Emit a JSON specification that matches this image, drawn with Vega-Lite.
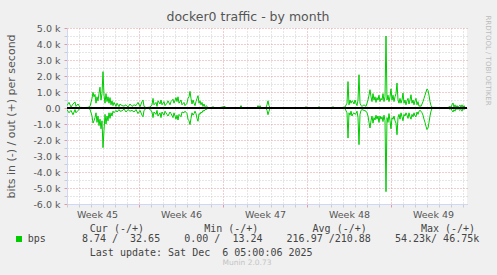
{
"$schema": "https://vega.github.io/schema/vega-lite/v6.json",
"width": 400, "height": 176,
"autosize": {"type": "none"},
"padding": {"left": 67, "top": 28, "right": 30, "bottom": 71},
"background": "#f0f0f0",
"config": {"view": {"fill": "#ffffff", "stroke": null}, "font": "DejaVu Sans"},
"title": {"text": "docker0 traffic - by month", "anchor": "middle", "frame": "group", "dx": -19, "dy": 23, "offset": 2, "baseline": "bottom", "font": "DejaVu Sans", "fontSize": 12.5, "fontWeight": "normal", "color": "#555555"},
"data": {"values": [
{"t":"2025-11-03T00:00Z","out":150,"in":-100},
{"t":"2025-11-03T04:00Z","out":350,"in":-300},
{"t":"2025-11-03T08:00Z","out":60,"in":-150},
{"t":"2025-11-03T12:00Z","out":250,"in":-420},
{"t":"2025-11-03T16:00Z","out":380,"in":-100},
{"t":"2025-11-03T18:00Z","out":100,"in":-300},
{"t":"2025-11-03T22:00Z","out":250,"in":-150},
{"t":"2025-11-04T02:00Z","out":40,"in":-30},
{"t":"2025-11-04T10:00Z","out":30,"in":-10},
{"t":"2025-11-04T18:00Z","out":40,"in":-20},
{"t":"2025-11-04T22:00Z","out":100,"in":-80},
{"t":"2025-11-05T02:00Z","out":600,"in":-500},
{"t":"2025-11-05T04:00Z","out":980,"in":-940},
{"t":"2025-11-05T06:00Z","out":700,"in":-800},
{"t":"2025-11-05T08:00Z","out":850,"in":-600},
{"t":"2025-11-05T10:00Z","out":300,"in":-300},
{"t":"2025-11-05T12:00Z","out":700,"in":-900},
{"t":"2025-11-05T14:00Z","out":450,"in":-500},
{"t":"2025-11-05T16:00Z","out":900,"in":-1100},
{"t":"2025-11-05T18:00Z","out":1300,"in":-700},
{"t":"2025-11-05T20:00Z","out":500,"in":-1300},
{"t":"2025-11-05T22:00Z","out":900,"in":-800},
{"t":"2025-11-06T00:00Z","out":2270,"in":-2480},
{"t":"2025-11-06T02:00Z","out":800,"in":-1400},
{"t":"2025-11-06T04:00Z","out":300,"in":-400},
{"t":"2025-11-06T06:00Z","out":900,"in":-1000},
{"t":"2025-11-06T08:00Z","out":400,"in":-500},
{"t":"2025-11-06T10:00Z","out":700,"in":-800},
{"t":"2025-11-06T12:00Z","out":300,"in":-300},
{"t":"2025-11-06T14:00Z","out":650,"in":-650},
{"t":"2025-11-06T16:00Z","out":200,"in":-300},
{"t":"2025-11-06T18:00Z","out":450,"in":-500},
{"t":"2025-11-06T20:00Z","out":150,"in":-200},
{"t":"2025-11-06T22:00Z","out":350,"in":-300},
{"t":"2025-11-07T02:00Z","out":100,"in":-150},
{"t":"2025-11-07T04:00Z","out":300,"in":-250},
{"t":"2025-11-07T08:00Z","out":80,"in":-100},
{"t":"2025-11-07T10:00Z","out":250,"in":-200},
{"t":"2025-11-07T14:00Z","out":150,"in":-180},
{"t":"2025-11-07T18:00Z","out":120,"in":-60},
{"t":"2025-11-07T22:00Z","out":200,"in":-250},
{"t":"2025-11-08T02:00Z","out":60,"in":-100},
{"t":"2025-11-08T06:00Z","out":250,"in":-200},
{"t":"2025-11-08T10:00Z","out":100,"in":-150},
{"t":"2025-11-08T14:00Z","out":200,"in":-250},
{"t":"2025-11-08T18:00Z","out":150,"in":-100},
{"t":"2025-11-08T22:00Z","out":350,"in":-350},
{"t":"2025-11-09T02:00Z","out":80,"in":-150},
{"t":"2025-11-09T06:00Z","out":400,"in":-450},
{"t":"2025-11-09T08:00Z","out":500,"in":-550},
{"t":"2025-11-09T10:00Z","out":100,"in":-150},
{"t":"2025-11-09T14:00Z","out":30,"in":-30},
{"t":"2025-11-09T18:00Z","out":40,"in":-20},
{"t":"2025-11-09T22:00Z","out":60,"in":-80},
{"t":"2025-11-10T02:00Z","out":200,"in":-250},
{"t":"2025-11-10T04:00Z","out":600,"in":-600},
{"t":"2025-11-10T06:00Z","out":200,"in":-250},
{"t":"2025-11-10T10:00Z","out":350,"in":-400},
{"t":"2025-11-10T12:00Z","out":100,"in":-150},
{"t":"2025-11-10T14:00Z","out":450,"in":-500},
{"t":"2025-11-10T18:00Z","out":250,"in":-300},
{"t":"2025-11-10T20:00Z","out":500,"in":-600},
{"t":"2025-11-10T22:00Z","out":200,"in":-250},
{"t":"2025-11-11T02:00Z","out":400,"in":-450},
{"t":"2025-11-11T04:00Z","out":150,"in":-200},
{"t":"2025-11-11T08:00Z","out":300,"in":-400},
{"t":"2025-11-11T10:00Z","out":450,"in":-500},
{"t":"2025-11-11T14:00Z","out":200,"in":-250},
{"t":"2025-11-11T16:00Z","out":400,"in":-350},
{"t":"2025-11-11T20:00Z","out":550,"in":-600},
{"t":"2025-11-11T22:00Z","out":300,"in":-300},
{"t":"2025-11-12T02:00Z","out":650,"in":-700},
{"t":"2025-11-12T04:00Z","out":400,"in":-450},
{"t":"2025-11-12T06:00Z","out":700,"in":-750},
{"t":"2025-11-12T08:00Z","out":300,"in":-400},
{"t":"2025-11-12T12:00Z","out":500,"in":-550},
{"t":"2025-11-12T14:00Z","out":200,"in":-250},
{"t":"2025-11-12T18:00Z","out":350,"in":-300},
{"t":"2025-11-12T20:00Z","out":150,"in":-200},
{"t":"2025-11-13T00:00Z","out":300,"in":-350},
{"t":"2025-11-13T02:00Z","out":600,"in":-700},
{"t":"2025-11-13T04:00Z","out":700,"in":-800},
{"t":"2025-11-13T06:00Z","out":1040,"in":-1040},
{"t":"2025-11-13T08:00Z","out":600,"in":-650},
{"t":"2025-11-13T10:00Z","out":250,"in":-300},
{"t":"2025-11-13T12:00Z","out":500,"in":-450},
{"t":"2025-11-13T14:00Z","out":300,"in":-350},
{"t":"2025-11-13T16:00Z","out":150,"in":-200},
{"t":"2025-11-13T18:00Z","out":400,"in":-350},
{"t":"2025-11-13T20:00Z","out":600,"in":-650},
{"t":"2025-11-13T22:00Z","out":770,"in":-830},
{"t":"2025-11-14T00:00Z","out":300,"in":-350},
{"t":"2025-11-14T02:00Z","out":450,"in":-400},
{"t":"2025-11-14T04:00Z","out":200,"in":-250},
{"t":"2025-11-14T06:00Z","out":350,"in":-300},
{"t":"2025-11-14T08:00Z","out":100,"in":-150},
{"t":"2025-11-14T10:00Z","out":250,"in":-200},
{"t":"2025-11-14T12:00Z","out":80,"in":-100},
{"t":"2025-11-14T14:00Z","out":150,"in":-100},
{"t":"2025-11-14T18:00Z","out":30,"in":-20},
{"t":"2025-11-15T02:00Z","out":30,"in":-10},
{"t":"2025-11-15T04:00Z","out":100,"in":-30},
{"t":"2025-11-15T06:00Z","out":30,"in":-10},
{"t":"2025-11-15T18:00Z","out":30,"in":-10},
{"t":"2025-11-16T04:00Z","out":100,"in":-20},
{"t":"2025-11-16T06:00Z","out":30,"in":-10},
{"t":"2025-11-17T00:00Z","out":30,"in":-10},
{"t":"2025-11-17T10:00Z","out":30,"in":-10},
{"t":"2025-11-17T12:00Z","out":150,"in":-30},
{"t":"2025-11-17T14:00Z","out":30,"in":-10},
{"t":"2025-11-18T06:00Z","out":30,"in":-10},
{"t":"2025-11-18T20:00Z","out":30,"in":-10},
{"t":"2025-11-18T22:00Z","out":150,"in":-40},
{"t":"2025-11-19T00:00Z","out":30,"in":-10},
{"t":"2025-11-19T02:00Z","out":150,"in":-60},
{"t":"2025-11-19T04:00Z","out":30,"in":-10},
{"t":"2025-11-19T14:00Z","out":30,"in":-10},
{"t":"2025-11-19T16:00Z","out":200,"in":-150},
{"t":"2025-11-19T18:00Z","out":450,"in":-420},
{"t":"2025-11-19T20:00Z","out":150,"in":-200},
{"t":"2025-11-19T22:00Z","out":30,"in":-10},
{"t":"2025-11-20T18:00Z","out":30,"in":-10},
{"t":"2025-11-21T14:00Z","out":30,"in":-10},
{"t":"2025-11-22T10:00Z","out":30,"in":-10},
{"t":"2025-11-22T20:00Z","out":30,"in":-10},
{"t":"2025-11-22T22:00Z","out":90,"in":-40},
{"t":"2025-11-23T00:00Z","out":30,"in":-10},
{"t":"2025-11-23T22:00Z","out":30,"in":-10},
{"t":"2025-11-24T00:00Z","out":90,"in":-40},
{"t":"2025-11-24T02:00Z","out":30,"in":-10},
{"t":"2025-11-25T02:00Z","out":30,"in":-10},
{"t":"2025-11-25T04:00Z","out":90,"in":-40},
{"t":"2025-11-25T06:00Z","out":30,"in":-10},
{"t":"2025-11-25T22:00Z","out":30,"in":-10},
{"t":"2025-11-26T04:00Z","out":60,"in":-40},
{"t":"2025-11-26T08:00Z","out":300,"in":-300},
{"t":"2025-11-26T10:00Z","out":1650,"in":-1880},
{"t":"2025-11-26T12:00Z","out":200,"in":-300},
{"t":"2025-11-26T14:00Z","out":500,"in":-450},
{"t":"2025-11-26T16:00Z","out":300,"in":-200},
{"t":"2025-11-26T18:00Z","out":450,"in":-500},
{"t":"2025-11-26T20:00Z","out":400,"in":-350},
{"t":"2025-11-26T22:00Z","out":250,"in":-300},
{"t":"2025-11-27T00:00Z","out":500,"in":-400},
{"t":"2025-11-27T02:00Z","out":300,"in":-350},
{"t":"2025-11-27T04:00Z","out":150,"in":-200},
{"t":"2025-11-27T06:00Z","out":500,"in":-600},
{"t":"2025-11-27T08:00Z","out":2080,"in":-2290},
{"t":"2025-11-27T10:00Z","out":300,"in":-400},
{"t":"2025-11-27T12:00Z","out":150,"in":-150},
{"t":"2025-11-27T14:00Z","out":100,"in":-100},
{"t":"2025-11-27T18:00Z","out":200,"in":-150},
{"t":"2025-11-27T22:00Z","out":100,"in":-200},
{"t":"2025-11-28T00:00Z","out":300,"in":-300},
{"t":"2025-11-28T02:00Z","out":500,"in":-500},
{"t":"2025-11-28T04:00Z","out":800,"in":-900},
{"t":"2025-11-28T06:00Z","out":1140,"in":-1250},
{"t":"2025-11-28T08:00Z","out":700,"in":-800},
{"t":"2025-11-28T10:00Z","out":400,"in":-500},
{"t":"2025-11-28T12:00Z","out":900,"in":-950},
{"t":"2025-11-28T14:00Z","out":500,"in":-600},
{"t":"2025-11-28T16:00Z","out":700,"in":-750},
{"t":"2025-11-28T18:00Z","out":350,"in":-450},
{"t":"2025-11-28T20:00Z","out":650,"in":-700},
{"t":"2025-11-28T22:00Z","out":500,"in":-500},
{"t":"2025-11-29T00:00Z","out":800,"in":-900},
{"t":"2025-11-29T02:00Z","out":400,"in":-500},
{"t":"2025-11-29T04:00Z","out":600,"in":-700},
{"t":"2025-11-29T06:00Z","out":500,"in":-550},
{"t":"2025-11-29T08:00Z","out":900,"in":-850},
{"t":"2025-11-29T10:00Z","out":400,"in":-450},
{"t":"2025-11-29T12:00Z","out":700,"in":-800},
{"t":"2025-11-29T14:00Z","out":4500,"in":-5230},
{"t":"2025-11-29T16:00Z","out":500,"in":-600},
{"t":"2025-11-29T18:00Z","out":800,"in":-900},
{"t":"2025-11-29T20:00Z","out":400,"in":-350},
{"t":"2025-11-29T22:00Z","out":700,"in":-800},
{"t":"2025-11-30T00:00Z","out":1200,"in":-1300},
{"t":"2025-11-30T02:00Z","out":500,"in":-600},
{"t":"2025-11-30T04:00Z","out":800,"in":-700},
{"t":"2025-11-30T06:00Z","out":400,"in":-500},
{"t":"2025-11-30T08:00Z","out":700,"in":-800},
{"t":"2025-11-30T10:00Z","out":900,"in":-950},
{"t":"2025-11-30T12:00Z","out":1560,"in":-1670},
{"t":"2025-11-30T14:00Z","out":500,"in":-600},
{"t":"2025-11-30T16:00Z","out":300,"in":-400},
{"t":"2025-11-30T18:00Z","out":600,"in":-700},
{"t":"2025-11-30T20:00Z","out":300,"in":-300},
{"t":"2025-11-30T22:00Z","out":500,"in":-550},
{"t":"2025-12-01T00:00Z","out":940,"in":-800},
{"t":"2025-12-01T02:00Z","out":300,"in":-400},
{"t":"2025-12-01T04:00Z","out":500,"in":-500},
{"t":"2025-12-01T06:00Z","out":200,"in":-300},
{"t":"2025-12-01T08:00Z","out":450,"in":-450},
{"t":"2025-12-01T10:00Z","out":600,"in":-650},
{"t":"2025-12-01T12:00Z","out":250,"in":-300},
{"t":"2025-12-01T14:00Z","out":500,"in":-550},
{"t":"2025-12-01T16:00Z","out":830,"in":-700},
{"t":"2025-12-01T18:00Z","out":300,"in":-400},
{"t":"2025-12-01T20:00Z","out":500,"in":-550},
{"t":"2025-12-01T22:00Z","out":200,"in":-300},
{"t":"2025-12-02T00:00Z","out":450,"in":-500},
{"t":"2025-12-02T02:00Z","out":600,"in":-550},
{"t":"2025-12-02T04:00Z","out":200,"in":-250},
{"t":"2025-12-02T06:00Z","out":400,"in":-400},
{"t":"2025-12-02T08:00Z","out":100,"in":-200},
{"t":"2025-12-02T10:00Z","out":150,"in":-150},
{"t":"2025-12-02T12:00Z","out":100,"in":-200},
{"t":"2025-12-02T14:00Z","out":250,"in":-300},
{"t":"2025-12-02T16:00Z","out":400,"in":-450},
{"t":"2025-12-02T18:00Z","out":600,"in":-700},
{"t":"2025-12-02T20:00Z","out":800,"in":-900},
{"t":"2025-12-02T22:00Z","out":1000,"in":-1150},
{"t":"2025-12-03T00:00Z","out":1190,"in":-1350},
{"t":"2025-12-03T02:00Z","out":1100,"in":-1250},
{"t":"2025-12-03T04:00Z","out":800,"in":-900},
{"t":"2025-12-03T06:00Z","out":400,"in":-500},
{"t":"2025-12-03T08:00Z","out":150,"in":-200},
{"t":"2025-12-03T10:00Z","out":40,"in":-30},
{"t":"2025-12-04T02:00Z","out":30,"in":-10},
{"t":"2025-12-04T18:00Z","out":30,"in":-10},
{"t":"2025-12-04T22:00Z","out":100,"in":-80},
{"t":"2025-12-05T00:00Z","out":40,"in":-30},
{"t":"2025-12-05T02:00Z","out":200,"in":-150},
{"t":"2025-12-05T04:00Z","out":310,"in":-250},
{"t":"2025-12-05T06:00Z","out":50,"in":-100},
{"t":"2025-12-05T08:00Z","out":200,"in":-200},
{"t":"2025-12-05T10:00Z","out":30,"in":-20},
{"t":"2025-12-05T12:00Z","out":150,"in":-100},
{"t":"2025-12-05T14:00Z","out":40,"in":-30},
{"t":"2025-12-05T18:00Z","out":180,"in":-150},
{"t":"2025-12-05T20:00Z","out":50,"in":-80},
{"t":"2025-12-05T22:00Z","out":200,"in":-200},
{"t":"2025-12-06T00:00Z","out":40,"in":-20},
{"t":"2025-12-06T02:00Z","out":150,"in":-100},
{"t":"2025-12-06T04:00Z","out":30,"in":-30}
]},
"layer": [
 {"transform": [{"fold": ["out", "in"], "as": ["dir", "bps"]}],
  "mark": {"type": "line", "strokeWidth": 1, "clip": true},
  "encoding": {
   "x": {"field": "t", "type": "temporal",
    "scale": {"type": "utc", "domain": [{"year": 2025, "month": 11, "date": 3, "utc": true}, {"year": 2025, "month": 12, "date": 6, "hours": 8, "utc": true}]},
    "axis": {
     "values": [1762128000000,1762214400000,1762300800000,1762387200000,1762473600000,1762560000000,1762646400000,1762732800000,1762819200000,1762905600000,1762992000000,1763078400000,1763164800000,1763251200000,1763337600000,1763424000000,1763510400000,1763596800000,1763683200000,1763769600000,1763856000000,1763942400000,1764028800000,1764115200000,1764201600000,1764288000000,1764374400000,1764460800000,1764547200000,1764633600000,1764720000000,1764806400000,1764892800000,1764979200000,1762344000000,1762948800000,1763553600000,1764158400000,1764763200000],
     "labelExpr": "utchours(datum.value) == 12 ? 'Week ' + utcFormat(datum.value, '%V') : ''",
     "labelFont": "DejaVu Sans", "labelFontSize": 9.5, "labelColor": "#555555", "labelPadding": 2, "labelOverlap": false, "labelFlush": false, "labelBound": false,
     "grid": true,
     "gridColor": {"condition": {"test": "utcday(datum.value) == 0 && utchours(datum.value) == 0", "value": "#e49a9a"}, "value": "#cccccc"},
     "gridOpacity": {"condition": {"test": "utchours(datum.value) == 12", "value": 0}, "value": 1},
     "gridDash": [1, 2],
     "ticks": true, "tickSize": 3,
     "tickColor": {"condition": {"test": "utcday(datum.value) == 0 && utchours(datum.value) == 0", "value": "#e49a9a"}, "value": "#cccccc"},
     "tickOpacity": {"condition": {"test": "utchours(datum.value) == 12", "value": 0}, "value": 1},
     "domainColor": "#cfd6f8",
     "title": ["Cur\u00a0(-/+)\u00a0\u00a0\u00a0\u00a0\u00a0\u00a0\u00a0\u00a0\u00a0\u00a0Min\u00a0(-/+)\u00a0\u00a0\u00a0\u00a0\u00a0\u00a0\u00a0\u00a0\u00a0Avg\u00a0(-/+)\u00a0\u00a0\u00a0\u00a0\u00a0\u00a0\u00a0\u00a0\u00a0Max\u00a0(-/+)", "\u00a0\u00a0\u00a0\u00a0\u00a0\u00a0\u00a0\u00a0\u00a0\u00a0\u00a0\u00a0\u00a0\u00a0\u00a0\u00a0\u00a0\u00a0\u00a0\u00a0\u00a0\u00a0\u00a0\u00a0\u00a0\u00a0\u00a0\u00a0\u00a0Last\u00a0update:\u00a0Sat\u00a0Dec\u00a0\u00a06\u00a005:00:06\u00a02025"],
     "titleFont": "DejaVu Sans Mono", "titleFontSize": 10, "titleFontWeight": "normal", "titleColor": "#444444",
     "titleAlign": "left", "titleAnchor": "start", "titleX": 22.3, "titleY": 19, "titleBaseline": "top", "titleLineHeight": 24.4
    }},
   "y": {"field": "bps", "type": "quantitative",
    "scale": {"domain": [-6000, 5000], "nice": false, "zero": false},
    "axis": {
     "values": [-6000,-5500,-5000,-4500,-4000,-3500,-3000,-2500,-2000,-1500,-1000,-500,0,500,1000,1500,2000,2500,3000,3500,4000,4500,5000],
     "labelExpr": "datum.value % 1000 == 0 ? (datum.value == 0 ? '0.0' : (datum.value < 0 ? '-' : '') + format(abs(datum.value) / 1000, '.1f') + ' k') : ''",
     "labelFont": "DejaVu Sans", "labelFontSize": 9.5, "labelColor": "#555555", "labelPadding": 4, "labelOverlap": false, "labelBound": false,
     "grid": true,
     "gridColor": {"condition": {"test": "datum.value % 1000 == 0", "value": "#e49a9a"}, "value": "#cccccc"},
     "gridDash": [1, 2],
     "ticks": true, "tickSize": 3,
     "tickColor": {"condition": {"test": "datum.value % 1000 == 0", "value": "#e49a9a"}, "value": "#cccccc"},
     "domainColor": "#cfd6f8",
     "title": "bits in (-) / out (+) per second",
     "titleFont": "DejaVu Sans", "titleFontSize": 11, "titleFontWeight": "normal", "titleColor": "#555555",
     "titleX": -56, "titleY": 88, "titleAlign": "center", "titleBaseline": "middle", "titleAngle": -90
    }},
   "color": {"datum": "bps", "scale": {"range": ["#00cc00"]},
    "legend": {"orient": "none", "legendX": -53, "legendY": 206, "direction": "vertical", "padding": 0,
     "title": "Munin 2.0.73", "titleOrient": "bottom", "titleAnchor": "middle", "titleFont": "DejaVu Sans", "titleFontSize": 7.5, "titleFontWeight": "normal", "titleColor": "#c4c4c4", "titlePadding": 15,
     "labelExpr": "'bps\u00a0\u00a0\u00a0\u00a0\u00a0\u00a08.74\u00a0/\u00a0\u00a032.65\u00a0\u00a0\u00a0\u00a00.00\u00a0/\u00a0\u00a013.24\u00a0\u00a0\u00a0\u00a0216.97\u00a0/210.88\u00a0\u00a0\u00a0\u00a054.23k/\u00a046.75k'",
     "labelFont": "DejaVu Sans Mono", "labelFontSize": 10, "labelColor": "#444444", "labelLimit": 0, "labelOffset": 3.7,
     "symbolType": "square", "symbolSize": 36, "symbolFillColor": "#00cc00", "symbolStrokeColor": "#00cc00", "symbolStrokeWidth": 0, "symbolOpacity": 1,
     "encode": {"symbols": {"update": {"fill": {"value": "#00cc00"}, "stroke": {"value": "#00cc00"}, "strokeWidth": {"value": 0}, "opacity": {"value": 1}}}}
    }},
   "detail": {"field": "dir"}
  }},
 {"mark": {"type": "rule", "color": "#000000", "strokeWidth": 1},
  "encoding": {
   "y": {"datum": 0, "type": "quantitative",
    "axis": {"orient": "right", "title": "RRDTOOL / TOBI OETIKER", "labels": false, "ticks": false, "domain": false, "grid": false,
     "titleAngle": 90, "titleAlign": "left", "titleBaseline": "middle", "titleX": 20, "titleY": -13,
     "titleFont": "DejaVu Sans", "titleFontSize": 7, "titleFontWeight": "normal", "titleColor": "#bbbbbb"}}
  }}
],
"resolve": {"axis": {"y": "independent"}}
}
